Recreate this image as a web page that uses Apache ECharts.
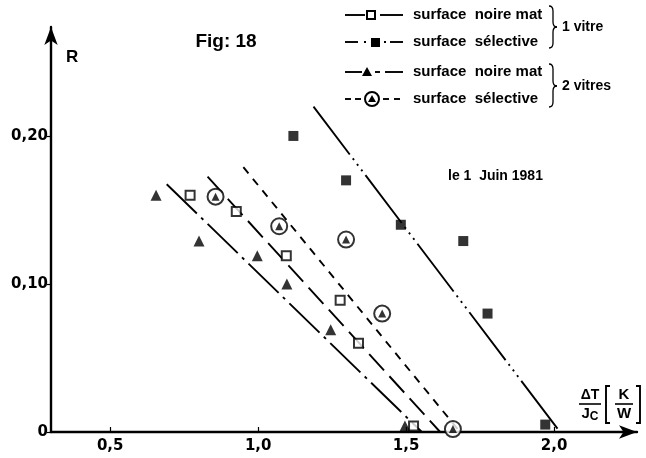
<!DOCTYPE html>
<html>
<head>
<meta charset="utf-8">
<script src="https://cdn.jsdelivr.net/npm/echarts@6/dist/echarts.min.js"></script>
<style>
html,body{margin:0;padding:0;background:#fff;}
#c{width:646px;height:458px;}
</style>
</head>
<body>
<div id="c"></div>
<script>
// ---- data ----
var xTicks = [0.5, 1.0, 1.5, 2.0];
var yTicks = [0, 0.1, 0.2];

// 1 vitre, surface noire mat (open squares)
var v1NoirX = [0.77, 0.926, 1.095, 1.277, 1.339, 1.525];
var v1NoirR = [0.160, 0.149, 0.119, 0.089, 0.060, 0.004];
var v1NoirLineX = [0.829, 1.615];
var v1NoirLineR = [0.1725, 0];

// 1 vitre, surface selective (filled squares)
var v1SelX = [1.119, 1.297, 1.482, 1.693, 1.775, 1.970];
var v1SelR = [0.200, 0.170, 0.140, 0.129, 0.080, 0.005];
var v1SelLineX = [1.187, 2.020];
var v1SelLineR = [0.2198, 0];

// 2 vitres, surface noire mat (triangles)
var v2NoirX = [0.655, 0.80, 0.997, 1.097, 1.245, 1.496];
var v2NoirR = [0.160, 0.129, 0.119, 0.100, 0.069, 0.004];
var v2NoirLineX = [0.691, 1.553];
var v2NoirLineR = [0.1674, 0];

// 2 vitres, surface selective (circled triangles)
var v2SelX = [0.856, 1.071, 1.297, 1.419, 1.658];
var v2SelR = [0.159, 0.139, 0.130, 0.080, 0.002];
var v2SelLineX = [0.950, 1.682];
var v2SelLineR = [0.1789, 0];

function pairs(xs, ys) { return xs.map(function (x, i) { return [x, ys[i]]; }); }

var FONT = 'Liberation Sans';
var LFONT = 'DejaVu Sans';
var chart = echarts.init(document.getElementById('c'));

function lineSeries(xs, ys, dash) {
  return {
    type: 'line', data: pairs(xs, ys), symbol: 'none', silent: true, z: 2,
    lineStyle: { color: '#000', width: 1.9, type: dash }
  };
}

function seg(x1, y1, x2, y2, w) {
  return { type: 'line', shape: { x1: x1, y1: y1, x2: x2, y2: y2 }, style: { stroke: '#000', lineWidth: w || 1.9 } };
}
function curve(x1, y1, cx, cy, x2, y2) {
  return { type: 'bezierCurve', shape: { x1: x1, y1: y1, cpx1: cx, cpy1: cy, x2: x2, y2: y2 }, style: { fill: 'none', stroke: '#000', lineWidth: 1.3 } };
}
function brace(x, yTop, yMid, yBot) {
  return [
    curve(x - 4, yTop, x, yTop, x, yTop + 5),
    seg(x, yTop + 5, x, yMid - 5, 1.3),
    curve(x, yMid - 5, x, yMid, x + 4, yMid),
    curve(x + 4, yMid, x, yMid, x, yMid + 5),
    seg(x, yMid + 5, x, yBot - 5, 1.3),
    curve(x, yBot - 5, x, yBot, x - 4, yBot)
  ];
}
function txt(x, y, s, size, align, fam) {
  return { type: 'text', x: x, y: y, style: { text: s, font: 'bold ' + size + 'px "' + (fam || FONT) + '"', fill: '#000', align: align || 'left', verticalAlign: 'middle' } };
}

var graphics = [
  // legend row 1
  seg(345, 15, 365, 15), { type: 'rect', shape: { x: 367, y: 11, width: 8, height: 8 }, style: { fill: '#fff', stroke: '#000', lineWidth: 2 } }, seg(380, 15, 403, 15),
  txt(413, 15, 'surface  noire mat', 15),
  // row 2
  seg(345, 42, 358, 42), seg(364, 42, 366, 42), { type: 'rect', shape: { x: 371, y: 38, width: 9, height: 9 }, style: { fill: '#000' } }, seg(384, 42, 386, 42), seg(390, 42, 403, 42),
  txt(413, 42, 'surface  sélective', 15),
  // row 3
  seg(345, 72, 362, 72), { type: 'polygon', shape: { points: [[367, 67], [372, 76], [362, 76]] }, style: { fill: '#000' } }, seg(375, 72, 380, 72), seg(385, 72, 403, 72),
  txt(413, 72, 'surface  noire mat', 15),
  // row 4
  seg(345, 99, 351, 99), seg(355, 99, 361, 99), { type: 'circle', shape: { cx: 372, cy: 99, r: 7 }, style: { fill: '#fff', stroke: '#000', lineWidth: 2 } },
  { type: 'polygon', shape: { points: [[372, 95], [376, 102], [368, 102]] }, style: { fill: '#000' } },
  seg(383, 99, 389, 99), seg(394, 99, 400, 99),
  txt(413, 99, 'surface  sélective', 15),
  txt(562, 27, '1 vitre', 14),
  txt(562, 86, '2 vitres', 14),
  // titles
  txt(226, 42, 'Fig: 18', 19, 'center'),
  txt(66, 57, 'R', 17),
  txt(448, 176, 'le 1  Juin 1981', 14),
  // x axis name: ΔT / Jc [K / W]
  txt(590, 395, 'ΔT', 14, 'center'),
  seg(579, 404, 601, 404, 1.6),
  { type: 'text', x: 590, y: 414, style: { rich: { j: { font: 'bold 15px "' + FONT + '"' }, c: { font: 'bold 12px "' + FONT + '"', padding: [6, 0, 0, 0] } }, text: '{j|J}{c|C}', fill: '#000', align: 'center', verticalAlign: 'middle' } },
  { type: 'polyline', shape: { points: [[610, 386], [606, 386], [606, 423], [610, 423]] }, style: { fill: 'none', stroke: '#000', lineWidth: 1.9 } },
  txt(624, 395, 'K', 15, 'center'),
  seg(615, 404, 633, 404, 1.6),
  txt(624, 414, 'W', 15, 'center'),
  { type: 'polyline', shape: { points: [[636, 386], [640, 386], [640, 423], [636, 423]] }, style: { fill: 'none', stroke: '#000', lineWidth: 1.9 } }
].concat(brace(553, 6, 27, 48)).concat(brace(553, 64, 86, 107));

chart.setOption({
  backgroundColor: '#fff',
  animation: false,
  grid: { left: 51, right: 9, top: 27, bottom: 26 },
  xAxis: {
    type: 'value', min: 0.3, max: 2.28,
    splitLine: { show: false },
    axisLine: { onZero: false, lineStyle: { color: '#000', width: 2.4 }, symbol: ['none', 'arrow'], symbolSize: [10, 18] },
    axisTick: { inside: true, length: 5, lineStyle: { color: '#000', width: 1.2 }, customValues: xTicks },
    axisLabel: { customValues: xTicks, margin: 7, color: '#000', fontFamily: LFONT, fontWeight: 'bold', fontSize: 15,
      formatter: function (v) { return v.toFixed(1).replace('.', ','); } }
  },
  yAxis: {
    type: 'value', min: 0, max: 0.2736,
    splitLine: { show: false },
    axisLine: { show: true, onZero: false, lineStyle: { color: '#000', width: 2.4 }, symbol: ['none', 'arrow'], symbolSize: [10, 18] },
    axisTick: { show: true, length: 4, lineStyle: { color: '#000', width: 1.2 }, customValues: yTicks },
    axisLabel: { customValues: yTicks, margin: 3, color: '#000', fontFamily: LFONT, fontWeight: 'bold', fontSize: 15,
      formatter: function (v) { return v === 0 ? '0' : v.toFixed(2).replace('.', ','); } }
  },
  series: [
    lineSeries(v1NoirLineX, v1NoirLineR, [22, 8]),
    lineSeries(v1SelLineX, v1SelLineR, [60, 5, 2, 5, 2, 5, 2, 5]),
    lineSeries(v2NoirLineX, v2NoirLineR, [42, 6, 3, 6]),
    lineSeries(v2SelLineX, v2SelLineR, [8, 7]),
    { type: 'scatter', z: 3, data: pairs(v1NoirX, v1NoirR), symbol: 'rect', symbolSize: 9,
      itemStyle: { color: '#fff', borderColor: '#000', borderWidth: 2 } },
    { type: 'scatter', z: 3, data: pairs(v1SelX, v1SelR), symbol: 'rect', symbolSize: 10,
      itemStyle: { color: '#000' } },
    { type: 'scatter', z: 3, data: pairs(v2NoirX, v2NoirR), symbol: 'triangle', symbolSize: 11,
      itemStyle: { color: '#000' } },
    { type: 'scatter', z: 3, data: pairs(v2SelX, v2SelR), symbol: 'circle', symbolSize: 16,
      itemStyle: { color: '#fff', borderColor: '#000', borderWidth: 2 } },
    { type: 'scatter', z: 4, data: pairs(v2SelX, v2SelR), symbol: 'triangle', symbolSize: 8,
      itemStyle: { color: '#000' } }
  ],
  graphic: graphics
});
</script>
</body>
</html>
